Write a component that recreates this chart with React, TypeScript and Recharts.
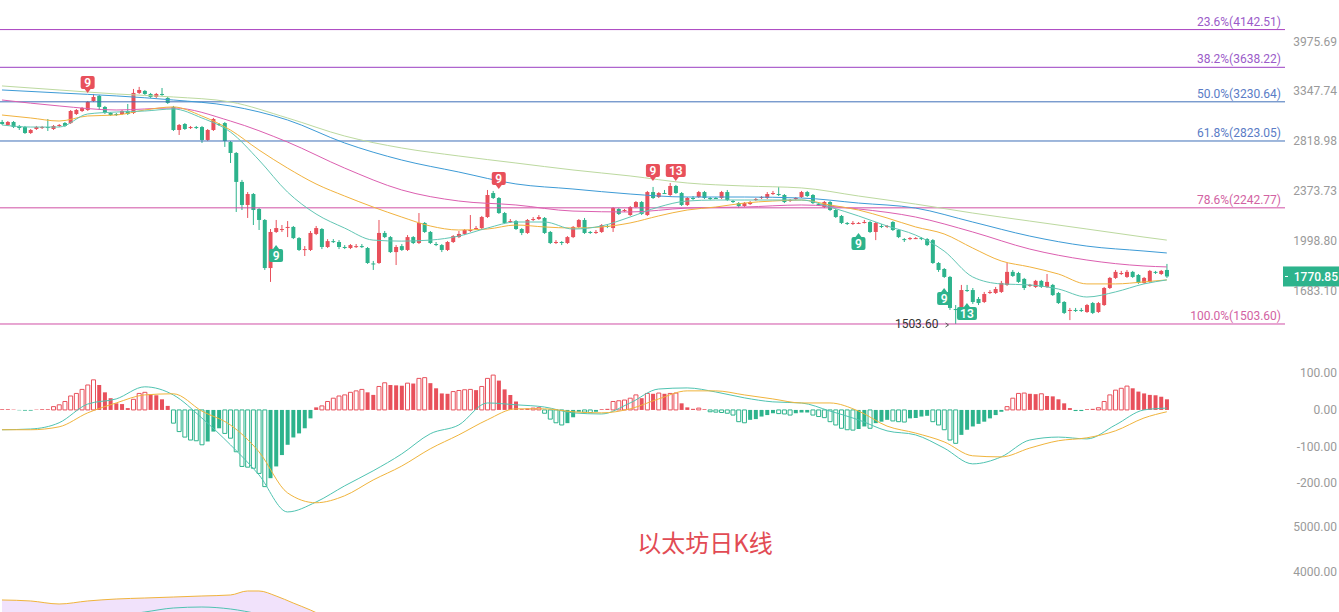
import React from 'react'
import { Area, Bar, Cell, ComposedChart, Line, ReferenceDot, ReferenceLine, XAxis, YAxis } from 'recharts'

// daily candles: open, high, low, close
const candles: number[][] = [
  [3014, 3035, 2983, 2993], [2983, 3024, 2973, 3014], [3014, 3024, 2952, 2962], [2973, 2983, 2932, 2952],
  [2962, 2973, 2892, 2902], [2902, 2942, 2892, 2932], [2942, 2973, 2932, 2962], [2952, 2973, 2942, 2962],
  [2962, 3045, 2922, 2952], [2942, 2983, 2932, 2973], [2973, 2993, 2962, 2983], [3003, 3014, 2962, 2973],
  [3003, 3141, 2993, 3130], [3098, 3152, 3087, 3141], [3130, 3174, 3119, 3163], [3141, 3240, 3130, 3229],
  [3240, 3319, 3229, 3285], [3297, 3308, 3141, 3174], [3174, 3185, 3098, 3109], [3109, 3119, 3077, 3087],
  [3098, 3109, 3077, 3092], [3098, 3141, 3087, 3130], [3130, 3207, 3087, 3098], [3109, 3377, 3098, 3331],
  [3331, 3401, 3319, 3365], [3354, 3365, 3308, 3319], [3319, 3331, 3274, 3285], [3285, 3331, 3274, 3319],
  [3319, 3388, 3297, 3308], [3274, 3285, 3207, 3218], [3174, 3185, 2922, 2932], [2932, 2993, 2882, 2983],
  [2993, 3003, 2932, 2942], [2957, 2973, 2942, 2962], [2962, 2973, 2942, 2957], [2962, 2973, 2804, 2833],
  [2833, 2942, 2823, 2932], [2932, 3056, 2922, 3045], [2993, 3003, 2973, 2983], [3003, 3014, 2766, 2823],
  [2813, 2823, 2617, 2709], [2709, 2718, 2211, 2452], [2452, 2469, 2226, 2265], [2265, 2368, 2166, 2352],
  [2352, 2360, 2114, 2226], [2234, 2241, 2078, 2151], [2151, 2158, 1811, 1823], [1823, 2085, 1738, 2064],
  [2064, 2151, 2057, 2092], [2081, 2114, 2064, 2085], [2096, 2143, 2028, 2100], [2100, 2107, 2014, 2021],
  [2021, 2028, 1933, 1940], [1943, 1966, 1900, 1946], [1940, 2071, 1933, 2057], [2050, 2107, 2042, 2092],
  [2085, 2092, 1946, 1960], [1960, 2014, 1953, 2000], [2000, 2014, 1987, 1997], [1994, 2007, 1946, 1960],
  [1960, 1973, 1946, 1957], [1953, 1980, 1946, 1973], [1963, 1980, 1953, 1966], [1966, 1980, 1953, 1963],
  [1953, 1960, 1849, 1855], [1852, 1868, 1811, 1849], [1855, 2151, 1849, 2057], [2057, 2071, 2021, 2028],
  [2028, 2035, 1920, 1926], [1926, 1973, 1842, 1960], [1966, 1980, 1933, 1940], [1940, 2042, 1933, 2028],
  [2028, 2035, 1980, 1987], [1987, 2203, 1980, 2129], [2129, 2136, 2057, 2064], [2064, 2071, 1980, 1987],
  [1980, 1994, 1966, 1977], [1973, 1980, 1926, 1940], [1940, 2000, 1933, 1994], [1994, 2042, 1987, 2035],
  [2028, 2071, 2021, 2050], [2050, 2085, 2042, 2078], [2074, 2188, 2064, 2078], [2089, 2107, 2078, 2092],
  [2092, 2181, 2085, 2173], [2173, 2385, 2166, 2344], [2360, 2377, 2312, 2320], [2320, 2328, 2196, 2203],
  [2203, 2211, 2121, 2129], [2139, 2158, 2129, 2143], [2143, 2151, 2078, 2085], [2085, 2092, 2042, 2057],
  [2057, 2158, 2050, 2151], [2155, 2173, 2143, 2158], [2158, 2188, 2151, 2173], [2166, 2173, 2050, 2057],
  [2064, 2071, 1980, 1987], [1990, 2007, 1980, 1994], [1994, 2000, 1973, 1990], [1987, 2035, 1980, 2028],
  [2028, 2107, 2021, 2100], [2100, 2158, 2092, 2151], [2151, 2166, 2050, 2057], [2064, 2071, 2050, 2060],
  [2060, 2078, 2050, 2064], [2064, 2121, 2057, 2114], [2107, 2114, 2092, 2103], [2092, 2249, 2064, 2241],
  [2234, 2241, 2188, 2196], [2222, 2234, 2211, 2226], [2188, 2257, 2181, 2249], [2249, 2296, 2241, 2288],
  [2288, 2296, 2188, 2196], [2188, 2377, 2181, 2368], [2368, 2410, 2312, 2320], [2328, 2368, 2320, 2360],
  [2360, 2385, 2352, 2356], [2344, 2443, 2336, 2418], [2418, 2427, 2352, 2360], [2360, 2368, 2257, 2265],
  [2265, 2328, 2257, 2320], [2320, 2336, 2304, 2316], [2328, 2377, 2320, 2368], [2368, 2377, 2312, 2320],
  [2320, 2328, 2304, 2316], [2320, 2328, 2312, 2316], [2320, 2377, 2312, 2368], [2368, 2385, 2296, 2304],
  [2296, 2304, 2280, 2292], [2280, 2288, 2241, 2257], [2257, 2288, 2249, 2280], [2272, 2296, 2265, 2288],
  [2308, 2320, 2296, 2312], [2324, 2336, 2312, 2328], [2320, 2368, 2312, 2352], [2356, 2377, 2344, 2360],
  [2352, 2410, 2336, 2348], [2344, 2352, 2280, 2288], [2300, 2312, 2288, 2304], [2316, 2328, 2304, 2320],
  [2328, 2377, 2320, 2368], [2368, 2377, 2328, 2336], [2344, 2352, 2272, 2280], [2272, 2280, 2257, 2269],
  [2249, 2296, 2241, 2288], [2288, 2296, 2218, 2226], [2226, 2234, 2166, 2173], [2181, 2188, 2121, 2129],
  [2129, 2136, 2114, 2125], [2125, 2143, 2114, 2129], [2125, 2136, 2121, 2129], [2132, 2151, 2125, 2136],
  [2136, 2143, 2057, 2064], [2064, 2136, 2007, 2129], [2107, 2121, 2092, 2103], [2103, 2114, 2092, 2107],
  [2136, 2143, 2071, 2078], [2078, 2085, 2021, 2028], [2014, 2021, 1994, 2010], [2017, 2028, 2007, 2021],
  [2017, 2028, 2014, 2021], [2021, 2028, 2007, 2017], [2014, 2021, 1966, 1973], [2007, 2014, 1849, 1855],
  [1855, 1861, 1799, 1811], [1817, 1823, 1762, 1768], [1768, 1774, 1578, 1589], [1583, 1605, 1503.6, 1580],
  [1567, 1720, 1562, 1690], [1690, 1720, 1679, 1687], [1690, 1702, 1611, 1622], [1639, 1650, 1605, 1616],
  [1622, 1679, 1616, 1667], [1676, 1690, 1667, 1679], [1673, 1708, 1667, 1696], [1679, 1744, 1673, 1732],
  [1720, 1855, 1714, 1799], [1799, 1811, 1768, 1774], [1792, 1799, 1732, 1738], [1756, 1762, 1690, 1702],
  [1717, 1726, 1708, 1720], [1708, 1750, 1702, 1744], [1744, 1750, 1702, 1708], [1708, 1786, 1702, 1738],
  [1720, 1726, 1656, 1661], [1673, 1679, 1611, 1616], [1622, 1627, 1556, 1562], [1575, 1589, 1524, 1578],
  [1578, 1589, 1567, 1575], [1578, 1589, 1567, 1575], [1567, 1611, 1562, 1605], [1616, 1622, 1556, 1562],
  [1567, 1622, 1562, 1616], [1605, 1708, 1600, 1702], [1702, 1768, 1696, 1762], [1762, 1811, 1756, 1799],
  [1789, 1805, 1780, 1792], [1768, 1811, 1762, 1799], [1799, 1805, 1762, 1768], [1780, 1786, 1726, 1732],
  [1732, 1768, 1726, 1762], [1738, 1811, 1732, 1805], [1799, 1805, 1786, 1796], [1786, 1811, 1780, 1805],
  [1811, 1849, 1762, 1770.85],
]

// moving averages, read every 5 / every 10 candles
const idx5 = [0, 5, 10, 15, 20, 25, 30, 35, 40, 45, 50, 55, 60, 65, 70, 75, 80, 85, 90, 95, 100, 105, 110, 115, 120, 125, 130, 135, 140, 145, 150, 155, 160, 165, 170, 175, 180, 185, 190, 195, 200, 204]
const idx10 = [0, 10, 20, 30, 40, 50, 60, 70, 80, 90, 100, 110, 120, 130, 140, 150, 160, 170, 180, 190, 200, 204]
const maFast = [2983, 2962, 2962, 3098, 3119, 3130, 3152, 3056, 2912, 2644, 2368, 2196, 2092, 2007, 2000, 2007, 2035, 2092, 2136, 2136, 2085, 2107, 2173, 2249, 2296, 2304, 2304, 2304, 2304, 2249, 2181, 2107, 2042, 1933, 1768, 1726, 1720, 1696, 1650, 1679, 1726, 1750]
const maMid = [3087, 3056, 3024, 3077, 3087, 3141, 3174, 3077, 2932, 2737, 2572, 2435, 2336, 2249, 2173, 2107, 2078, 2085, 2114, 2100, 2092, 2100, 2129, 2181, 2226, 2249, 2280, 2296, 2304, 2265, 2226, 2166, 2100, 2050, 1953, 1868, 1830, 1786, 1726, 1726, 1738, 1750]
const maSlow = [3251, 3185, 3141, 3163, 3024, 2813, 2572, 2385, 2296, 2265, 2218, 2211, 2241, 2249, 2265, 2234, 2173, 2064, 1946, 1874, 1836, 1830]
const maLong = [3365, 3331, 3297, 3251, 3185, 3035, 2804, 2644, 2537, 2435, 2393, 2352, 2328, 2328, 2320, 2280, 2241, 2136, 2035, 1966, 1933, 1920]
const maYear = [3412, 3365, 3319, 3285, 3229, 3056, 2872, 2756, 2681, 2617, 2555, 2503, 2443, 2418, 2402, 2336, 2272, 2203, 2143, 2085, 2028, 2007]

// MACD
const macdHist = [
  2, 2, 1, -1, -2, -2, 1, 2, 2, 9, 14, 23, 38, 45, 56, 68, 82, 68, 48, 32, 18, 16, 5, 29, 45, 48, 43, 40, 29, 11,
  -36, -59, -74, -82, -84, -95, -86, -59, -50, -64, -77, -114, -154, -156, -159, -173, -209, -186, -154, -123, -95, -75, -64, -50, -23,
  7, 11, 23, 32, 38, 41, 48, 52, 56, 48, 41, 64, 74, 68, 67, 66, 73, 72, 86, 88, 73, 59, 45, 44,
  50, 53, 55, 56, 54, 64, 86, 95, 80, 56, 41, 23, 2, 4, 5, 6,
  -9, -25, -35, -41, -36, -20, -5, -6, -7, -5, 2, 3,
  23, 25, 27, 32, 41, 32, 45, 44, 46, 44, 45, 46, 18, 7, 3, 5, 2,
  -5, -6, -7, -9, -14, -32, -35, -27, -25, -18, -14, -9, -10, -11, -14, -9, -7, -7, -14, -18, -21, -32, -41, -50, -54, -55, -52, -45, -50, -36,
  -32, -27, -30, -32, -33, -23, -22, -18, -16, -32, -41, -54, -82, -91, -68, -54, -45, -38, -32, -23, -14, -5,
  9, 32, 45, 46, 44, 43, 44, 38, 37, 29, 18, 5, -3, -3, 2, 3, 6, 23, 41, 54, 59, 65, 59, 50, 45, 41, 40, 36, 29,
]
const macdDif = [-54, -52, -35, 16, 30, 63, 41, -22, -95, -177, -278, -251, -207, -166, -120, -65, -41, 19, 14, 8, -8, -11, 19, 57, 60, 49, 33, 22, 19, -3, -27, -57, -68, -104, -147, -128, -82, -74, -79, -41, 0, 5]
const macdDea = [-54, -54, -46, -8, 19, 41, 44, -3, -41, -114, -226, -253, -234, -191, -153, -106, -68, -27, 3, 3, -5, -8, 3, 30, 52, 52, 41, 30, 19, 19, -3, -44, -63, -87, -125, -128, -104, -84, -76, -57, -22, -5]

// fibonacci retracement
const fibPrices = [4142.51, 3638.22, 3230.64, 2823.05, 2242.77, 1503.6]
const fibRatios = ['23.6%', '38.2%', '50.0%', '61.8%', '78.6%', '100.0%']

// TD sequential marks
const tdIndex = [15, 87, 114, 118, 48, 150, 165, 169]
const tdPrice = [3331, 2393, 2460, 2460, 1973, 2057, 1702, 1616]
const tdLabel = ['9', '9', '9', '13', '9', '9', '9', '13']

const priceTicks = [1683.1, 1998.8, 2373.73, 2818.98, 3347.74, 3975.69]
const macdTicks = [100, 0, -100, -200]
const lastPrice = 1770.85
const lowPrice = 1503.6
const lowIndex = 167

// next panel (cut off at the bottom)
const bandIdx = [0, 5, 10, 15, 20, 25, 30, 35, 40, 43, 45, 48, 51, 54, 57]
const bandUpper = [3378, 3356, 3289, 3356, 3400, 3422, 3444, 3467, 3489, 3578, 3578, 3467, 3311, 3156, 2978]
const bandMidIdx = [20, 25, 30, 35, 40, 45]
const bandMid = [3022, 3111, 3200, 3222, 3178, 3067]
const lowerTicks = [5000, 4000]

const W = 1339
const AXIS_W = 54
const RED = '#e8505b'
const GREEN = '#2db38c'
const GRAY = '#9a9a9a'
const X_DOMAIN: [number, number] = [-0.35, 224.7]
const fibLine = ['#a93fbf', '#9a3fc2', '#3f6fb8', '#3f6fb8', '#d04fa5', '#d04fa5']
const fibText = ['#9b5bc9', '#9b5bc9', '#5a7cc6', '#5a7cc6', '#d262a2', '#d262a2']

const series = (idx: number[], vals: number[]) => idx.map((i, n) => ({ i, v: vals[n] }))

const candleData = candles.map(([o, h, l, c], i) => ({ i, o, h, l, c, range: [l, h] }))
const maLines = [
  { data: series(idx10, maYear), color: '#bcd99f' },
  { data: series(idx10, maLong), color: '#3d9bd6' },
  { data: series(idx10, maSlow), color: '#dc5fb0' },
  { data: series(idx5, maMid), color: '#f1b23e' },
  { data: series(idx5, maFast), color: '#62c6b4' },
]

const histData = macdHist.map((v, i) => ({ i, v }))
const difData = series(idx5, macdDif)
const deaData = series(idx5, macdDea)
const upperData = series(bandIdx, bandUpper)
const midData = series(bandMidIdx, bandMid)

function Candle(props: any) {
  const { x, y, width, height, payload } = props
  if (!payload || payload.h == null) return null
  const { o, h, l, c } = payload
  const top = Math.min(y, y + height)
  const span = Math.abs(height)
  const lh = Math.log(h)
  const ll = Math.log(l)
  const toY = (v: number) => top + (span * (lh - Math.log(v))) / (lh - ll || 1)
  const color = c >= o ? RED : GREEN
  const cx = x + width / 2
  const bodyTop = toY(Math.max(o, c))
  const bodyH = Math.max(1, toY(Math.min(o, c)) - bodyTop)
  return (
    <g>
      <line x1={cx} x2={cx} y1={top} y2={top + span} stroke={color} strokeWidth={1} />
      <rect x={x} y={bodyTop} width={width} height={bodyH} fill={color} />
    </g>
  )
}

function RightTick(props: any) {
  const { y, payload } = props
  return (
    <text x={W - 2} y={y + 4} textAnchor="end" fill={GRAY} fontSize={12}>
      {Number(payload.value).toFixed(2)}
    </text>
  )
}

function tdShape(label: string, up: boolean) {
  return (props: any) => {
    const { cx, cy } = props
    const w = label.length > 1 ? 20 : 14
    const color = up ? RED : GREEN
    const ry = up ? cy - 17 : cy + 4
    const tri = up
      ? `M${cx - 3},${cy - 4} L${cx + 3},${cy - 4} L${cx},${cy} Z`
      : `M${cx - 3},${cy + 4} L${cx + 3},${cy + 4} L${cx},${cy} Z`
    return (
      <g>
        <path d={tri} fill={color} />
        <rect x={cx - w / 2} y={ry} width={w} height={13} rx={2} fill={color} />
        <text x={cx} y={ry + 11} textAnchor="middle" fill="#fff" fontSize={12} fontWeight={600}>
          {label}
        </text>
      </g>
    )
  }
}

function LastPriceTag(props: any) {
  const { cx, cy } = props
  return (
    <g>
      <rect x={cx - 2} y={cy - 10} width={W - cx + 2} height={20} fill={GREEN} />
      <line x1={cx} x2={cx + 3} y1={cy} y2={cy} stroke="#fff" strokeWidth={1} />
      <text x={W - 1} y={cy + 4.5} textAnchor="end" fill="#fff" fontSize={12} fontWeight={500}>
        {lastPrice.toFixed(2)}
      </text>
    </g>
  )
}

function LowMark(props: any) {
  const { cx, cy } = props
  return (
    <g>
      <text x={cx - 17} y={cy + 4} textAnchor="end" fill="#333" fontSize={12}>
        {lowPrice.toFixed(2)}
      </text>
      <path d={`M${cx - 10},${cy - 1} L${cx - 7},${cy + 1} L${cx - 10},${cy + 3}`} fill="none" stroke="#555" strokeWidth={1} />
    </g>
  )
}

function rightAxis(domain: number[], ticks: number[], log?: boolean) {
  return (
    <YAxis
      orientation="right"
      width={AXIS_W}
      scale={log ? 'log' : 'auto'}
      domain={domain}
      allowDataOverflow
      ticks={ticks}
      interval={0}
      axisLine={false}
      tickLine={false}
      tick={<RightTick />}
    />
  )
}

export default function App() {
  return (
    <div style={{ position: 'relative', width: W, height: 612, overflow: 'hidden', background: '#fff', fontFamily: 'Roboto, sans-serif' }}>
      <style>{'html,body{margin:0;padding:0;overflow:hidden;background:#fff}'}</style>

      <div style={{ position: 'absolute', left: 0, top: 0 }}>
        <ComposedChart width={W} height={335} data={candleData} margin={{ top: 0, right: 0, bottom: 0, left: 0 }}>
          <XAxis type="number" dataKey="i" domain={X_DOMAIN} hide allowDataOverflow />
          {rightAxis([1447.7, 4586.7], priceTicks, true)}
          {fibPrices.map((p, n) => (
            <ReferenceLine
              key={p}
              y={p}
              stroke={fibLine[n]}
              strokeWidth={1}
              label={{ value: `${fibRatios[n]}(${p.toFixed(2)})`, position: 'insideBottomRight', offset: 4, fill: fibText[n], fontSize: 12 }}
            />
          ))}
          {maLines.map((m, n) => (
            <Line key={n} data={m.data} dataKey="v" stroke={m.color} strokeWidth={1} dot={false} activeDot={false} type="monotone" isAnimationActive={false} />
          ))}
          <Bar dataKey="range" barSize={4} shape={<Candle />} isAnimationActive={false} />
          {tdIndex.map((k, n) => (
            <ReferenceDot key={`td${n}`} x={k} y={tdPrice[n]} r={0} shape={tdShape(tdLabel[n], n < 4)} />
          ))}
          <ReferenceDot x={lowIndex} y={lowPrice} r={0} shape={<LowMark />} />
          <ReferenceDot x={X_DOMAIN[1]} y={lastPrice} r={0} shape={<LastPriceTag />} />
        </ComposedChart>
      </div>

      <div style={{ position: 'absolute', left: 0, top: 345 }}>
        <ComposedChart width={W} height={175} data={histData} margin={{ top: 0, right: 0, bottom: 0, left: 0 }}>
          <XAxis type="number" dataKey="i" domain={X_DOMAIN} hide allowDataOverflow />
          {rightAxis([-300, 177], macdTicks)}
          <Bar dataKey="v" barSize={4} isAnimationActive={false}>
            {macdHist.map((v, i) => {
              const color = v >= 0 ? RED : GREEN
              const hollow = i > 0 && Math.abs(v) > Math.abs(macdHist[i - 1]) && Math.abs(v) > 4
              return <Cell key={i} fill={hollow ? '#fff' : color} stroke={color} strokeWidth={hollow ? 1 : 0} />
            })}
          </Bar>
          <Line data={difData} dataKey="v" stroke="#4fc3b1" strokeWidth={1} dot={false} activeDot={false} type="monotone" isAnimationActive={false} />
          <Line data={deaData} dataKey="v" stroke="#f0b43c" strokeWidth={1} dot={false} activeDot={false} type="monotone" isAnimationActive={false} />
        </ComposedChart>
      </div>

      <div style={{ position: 'absolute', left: 0, top: 505 }}>
        <ComposedChart width={W} height={130} data={upperData} margin={{ top: 0, right: 0, bottom: 0, left: 0 }}>
          <XAxis type="number" dataKey="i" domain={X_DOMAIN} hide allowDataOverflow />
          {rightAxis([2600, 5489], lowerTicks)}
          <Area dataKey="v" baseValue={2600} stroke="#f0b43c" strokeWidth={1} fill="#f1e2fb" fillOpacity={1} type="monotone" isAnimationActive={false} />
          <Line data={midData} dataKey="v" stroke="#4fc3b1" strokeWidth={1} dot={false} activeDot={false} type="monotone" isAnimationActive={false} />
        </ComposedChart>
      </div>

      <div
        style={{
          position: 'absolute',
          left: 605,
          top: 528,
          width: 200,
          textAlign: 'center',
          lineHeight: '28px',
          fontSize: 24,
          color: '#e24b54',
          fontFamily: '"Noto Sans CJK SC", sans-serif',
        }}
      >
        以太坊日K线
      </div>
    </div>
  )
}
